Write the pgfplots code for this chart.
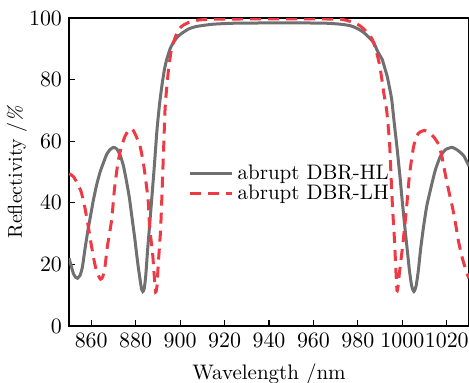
\documentclass[border=0pt]{standalone}
\usepackage{pgfplots}
\pgfplotsset{compat=1.18}
\definecolor{hlgray}{RGB}{112,112,112}
\definecolor{lhred}{RGB}{238,58,68}
\begin{document}
\begin{tikzpicture}
\path[use as bounding box] (-34.5pt,-28pt) rectangle (200pt,163pt);
\begin{axis}[
  at={(0pt,0pt)}, anchor=south west,
  scale only axis, width=200pt, height=154pt,
  xmin=850, xmax=1030, ymin=0, ymax=100,
  xtick={860,880,...,1020}, ytick={0,20,...,100},
  xtick pos=left, ytick pos=left,
  tick align=inside, major tick length=3pt,
  axis line style={line width=0.8pt},
  every tick/.style={black, line width=0.6pt},
  tick label style={font=\fontsize{10.5}{12}\selectfont},
  xticklabel style={/pgf/number format/1000 sep={}},
  xlabel={Wavelength /nm}, ylabel={Reflectivity /\textit{\%}},
  label style={font=\fontsize{10.5}{12}\selectfont},
  xlabel style={yshift=-1.5pt},
  every axis y label/.style={at={(axis description cs:-0.13,0.5)}, rotate=90, anchor=center},
  legend style={at={(rel axis cs:0.283,0.462)}, anchor=west, draw=none, fill=none, row sep=-3pt, font=\fontsize{10.5}{12}\selectfont},
  legend cell align=left,
  legend image code/.code={\draw[#1] (0pt,0pt) -- (21pt,0pt);},
]
\addplot[hlgray, line width=1.5pt, smooth, tension=0.35] coordinates {
(850,22) (851,19.5) (852,17) (853,15.8) (853.8,15.5) (855,16.5) (856,19) (857.2,25) (858.5,31) (860,37) (861,41) (862.5,46) (864,50) (865.5,53) (867,55.8) (868.5,57.3) (870,58) (871.5,57.5) (873,55.5) (874.5,52) (876,46.5) (877.2,41.5) (878.2,36) (879.5,29) (880.5,23) (881.2,19) (882,15) (882.6,12.2) (883.2,11.2) (883.8,12) (884.5,16) (885.3,24) (886.2,32) (887.2,41) (888.3,51) (889.5,62.8) (890.3,69) (891,73.6) (892,79) (893,83.5) (894,86.6) (895.5,90) (897,92.1) (899,94) (901.5,95.4) (904,96.5) (907,97.2) (910.5,97.6) (915,98) (924,98.3) (940,98.4) (955,98.4) (966,98.3) (972,98) (976.6,97.5) (980,96.5) (982.6,95.3) (985,93.7) (987.1,92) (989,89) (990.9,86.6) (992,84) (993.2,81) (994.2,77.5) (995.2,73.6) (996.5,65) (997.7,57.3) (999,48) (999.9,41) (1001,33) (1002.2,24.8) (1003.2,18) (1004.2,13) (1005.2,11.2) (1006.2,13) (1007.2,18) (1008.2,24.8) (1009.5,32) (1011,39) (1013.4,46.5) (1015,51) (1017.2,55.2) (1019.5,57.3) (1022.5,58) (1025,57) (1027.7,55.2) (1030,51.9)
};
\addlegendentry{abrupt DBR-HL}
\addplot[lhred, line width=1.5pt, dash pattern=on 5.5pt off 3.5pt, smooth, tension=0.35] coordinates {
(850,49.5) (852,48.5) (854,46) (855.5,43.5) (857,39) (858.5,33) (860,26.5) (861.5,20.5) (862.8,17) (864.2,15.2) (865.2,16) (866.2,19.3) (867.3,26) (869.2,34.5) (870.4,44) (872,53) (873.5,58) (875.2,61.6) (876.8,63.5) (878.4,64) (880,62) (882,58.3) (883.2,54) (884.1,49.8) (885.6,41) (886.3,32) (887.6,23.7) (888.4,16) (889,11) (889.6,13) (890.2,20.5) (891.2,31) (891.9,44) (892.6,58) (893.2,70) (893.8,76) (894.8,83.4) (896,89.5) (897,92.1) (898.5,95) (900,96.8) (901.5,97.7) (904,98.6) (906.5,99.1) (909,99.4) (915,99.6) (933,99.7) (960,99.7) (972.3,99.6) (976,99) (978.5,98.4) (980.7,97.6) (983,96.2) (985,94.6) (986.5,93) (988,90) (989.7,85) (990.8,80) (991.6,75.9) (992.4,72.5) (993,69.7) (994.2,60) (994.9,49) (995.6,38.4) (996.5,27.4) (997.1,18) (997.6,11.5) (998.1,13) (998.7,17.3) (1000.3,27) (1001.9,38.4) (1003.2,49) (1005,58) (1006.5,61.8) (1008,63) (1010,63.5) (1012,62.8) (1014,61.5) (1016.3,59) (1017.8,55) (1019.4,49) (1021,43.5) (1022.6,38.4) (1024,33) (1025.3,27.4) (1027,22) (1029,17.3) (1030,15.5)
};
\addlegendentry{abrupt DBR-LH}
\end{axis}
\end{tikzpicture}
\end{document}
